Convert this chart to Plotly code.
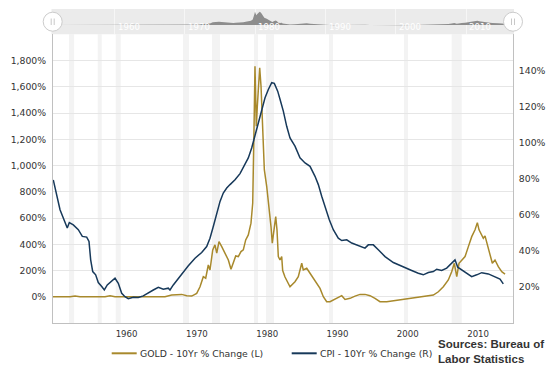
import plotly.graph_objects as go

# ---------------- data ----------------
cpi_years = [1951.28, 1951.77, 1952.24, 1952.62, 1952.95, 1953.27, 1953.56, 1954.13, 1954.84, 1955.41,
             1956.03, 1956.36, 1956.60, 1956.89, 1957.31, 1957.68, 1958.17, 1958.54, 1958.96, 1959.59,
             1960.06, 1960.53, 1961.01, 1961.48, 1961.95, 1962.66, 1963.37, 1964.08, 1964.80, 1965.51,
             1966.22, 1966.93, 1967.64, 1967.88, 1968.35, 1969.06, 1969.77, 1970.49, 1971.44, 1972.39,
             1973.10, 1973.57, 1974.04, 1974.53, 1975.00, 1975.46, 1975.95, 1976.42, 1977.13, 1977.84,
             1978.55, 1979.02, 1979.50, 1979.97, 1980.44, 1980.93, 1981.40, 1981.87, 1982.35, 1982.72,
             1983.20, 1983.53, 1984.00, 1984.48, 1984.95, 1985.66, 1986.37, 1987.09, 1987.80, 1988.51,
             1988.98, 1989.46, 1990.17, 1990.54, 1991.11, 1991.82, 1992.31, 1993.02, 1993.73, 1994.67,
             1995.62, 1996.09, 1996.80, 1997.51, 1998.47, 1999.65, 2000.36, 2001.07, 2001.55, 2002.26,
             2003.20, 2003.91, 2004.63, 2005.34, 2005.82, 2006.53, 2007.24, 2007.95, 2008.42, 2008.81,
             2009.38, 2010.09, 2010.80, 2011.51, 2012.22, 2013.16, 2014.11, 2014.82, 2015.29]
cpi_change = [79.3, 70.2, 62.8, 59.0, 55.4, 52.6, 55.7, 54.4, 51.7, 48.0,
              47.6, 45.2, 35.0, 28.5, 26.7, 22.4, 20.2, 18.3, 21.1, 23.0,
              24.8, 22.0, 16.5, 14.6, 13.5, 14.3, 14.1, 15.0, 16.8, 18.3,
              19.8, 18.7, 19.3, 18.3, 21.1, 24.8, 28.5, 31.7, 35.9, 39.1,
              42.4, 47.0, 53.5, 60.9, 67.4, 72.0, 74.8, 76.7, 79.4, 82.8,
              87.8, 91.5, 97.0, 103.5, 110.9, 117.4, 124.8, 129.4, 133.2, 132.8,
              128.5, 124.0, 117.4, 109.0, 102.6, 98.0, 91.5, 88.7, 86.8, 81.3,
              76.7, 70.2, 60.9, 57.2, 51.7, 47.0, 45.7, 46.1, 44.3, 42.8,
              41.5, 43.3, 43.3, 40.6, 36.8, 33.5, 32.2, 30.9, 30.4, 29.1,
              27.6, 26.7, 28.0, 28.5, 29.8, 29.1, 30.4, 33.2, 35.0, 30.9,
              29.4, 27.9, 25.7, 26.7, 27.9, 27.2, 25.7, 24.3, 21.7]

gold_years = [1951.24, 1953.66, 1954.37, 1955.08, 1958.64, 1959.35, 1960.06, 1967.17, 1968.12, 1969.55,
              1970.26, 1970.97, 1971.68, 1972.15, 1972.62, 1972.96, 1973.33, 1973.57, 1973.96, 1974.28,
              1974.53, 1974.85, 1975.24, 1975.71, 1976.18, 1976.56, 1976.89, 1977.23, 1977.60, 1977.98,
              1978.31, 1978.65, 1979.02, 1979.40, 1979.65, 1979.79, 1979.87, 1979.97, 1980.16, 1980.30,
              1980.64, 1980.83, 1981.01, 1981.30, 1981.64, 1981.97, 1982.25, 1982.43, 1982.72, 1982.92,
              1983.10, 1983.29, 1983.53, 1983.77, 1983.91, 1984.24, 1984.95, 1985.66, 1986.13, 1986.62,
              1986.84, 1987.33, 1987.80, 1988.27, 1988.75, 1989.22, 1989.69, 1990.17, 1990.64, 1991.11,
              1991.82, 1992.31, 1992.78, 1993.49, 1994.20, 1994.91, 1995.62, 1996.33, 1997.04, 1997.75,
              1998.71, 1999.65, 2000.60, 2001.31, 2002.73, 2004.16, 2005.34, 2006.05, 2006.76, 2007.47,
              2007.95, 2008.32, 2008.67, 2008.99, 2009.38, 2009.85, 2010.32, 2010.80, 2011.27, 2011.60,
              2011.84, 2012.12, 2012.45, 2012.69, 2013.07, 2013.40, 2013.73, 2014.11, 2014.58, 2015.07,
              2015.54]
gold_change = [0, 0, 6, 0, 0, 8, 0, 0, 13, 18,
               8, 5, 26, 76, 153, 141, 242, 204, 357, 395,
               332, 420, 382, 332, 280, 209, 255, 311, 306, 344,
               357, 433, 471, 561, 714, 1019, 1401, 1757, 1300, 1450,
               1745, 1604, 1325, 968, 840, 688, 535, 408, 535, 611,
               510, 306, 280, 306, 200, 150, 76, 115, 153, 255,
               204, 217, 179, 141, 102, 64, 0, -38, -38, -25,
               -5, 8, -20, -12, 5, 18, 18, 8, -12, -38,
               -38, -31, -25, -20, -8, 5, 13, 38, 76, 128,
               191, 255, 153, 255, 280, 306, 382, 458, 510, 565,
               510, 484, 446, 464, 382, 306, 255, 280, 229, 191,
               173]

# shaded periods (recessions)
band_start = [1953.52, 1957.60, 1960.16, 1969.73, 1973.86, 1979.83, 1981.54, 1990.50, 2001.17, 2007.95]
band_end = [1954.24, 1958.17, 1960.87, 1970.58, 1975.00, 1980.40, 1982.68, 1991.07, 2001.74, 2009.38]

decades = [1960, 1970, 1980, 1990, 2000, 2010]
left_ticks = [0, 200, 400, 600, 800, 1000, 1200, 1400, 1600, 1800]
left_labels = ["0%", "200%", "400%", "600%", "800%", "1,000%", "1,200%", "1,400%", "1,600%", "1,800%"]
right_ticks = [20, 40, 60, 80, 100, 120, 140]
right_labels = ["20%", "40%", "60%", "80%", "100%", "120%", "140%"]

gold_name = "GOLD - 10Yr % Change (L)"
cpi_name = "CPI - 10Yr % Change (R)"
source_text = "Sources: Bureau of<br>Labor Statistics"

# ---------------- styles ----------------
GOLD = "#a8892c"
CPI = "#17395a"
# the page body keeps its default 8px margin, so the figure is sized to the visible window
W, H = 549, 358
ML, MR, MT, MB = 45, 44, 1, 43
PW, PH = W - ML - MR, H - MT - MB
XR = [1951.24, 2016.67]
MAIN_TOP = (323 - 34.3) / PH


def px(x):  # window pixel -> paper
    return (x - 53) / PW


def py(y):  # window pixel -> paper
    return (323 - y) / PH


FONT = "DejaVu Sans, Verdana, sans-serif"

fig = go.Figure()

# navigator (top strip)
fig.add_trace(go.Scatter(x=gold_years, y=gold_change, xaxis="x2", yaxis="y3", mode="lines",
                         line=dict(color="rgba(0,0,0,0)", width=0), fill="tozeroy",
                         fillcolor="#8d8d8d", hoverinfo="skip", showlegend=False))

fig.add_trace(go.Scatter(x=cpi_years, y=cpi_change, xaxis="x", yaxis="y2", mode="lines",
                         line=dict(color=CPI, width=1.5), name=cpi_name, showlegend=False))
fig.add_trace(go.Scatter(x=gold_years, y=gold_change, xaxis="x", yaxis="y", mode="lines",
                         line=dict(color=GOLD, width=1.5), name=gold_name, showlegend=False))

shapes = []
for s, e in zip(band_start, band_end):
    shapes.append(dict(type="rect", xref="x", yref="y domain", x0=s, x1=e, y0=0, y1=1,
                       fillcolor="#f3f3f3", line=dict(width=0), layer="below"))
# navigator background
shapes.append(dict(type="rect", xref="paper", yref="paper", x0=px(51.5), x1=px(514), y0=py(34.3), y1=1,
                   fillcolor="#ebebeb", line=dict(width=0), layer="below"))
# navigator handles
for cx in [52.7, 513.0]:
    shapes.append(dict(type="circle", xref="paper", yref="paper",
                       x0=px(cx - 9.5), x1=px(cx + 9.5), y0=py(31.2), y1=py(12.2),
                       fillcolor="white", line=dict(color="#cccccc", width=1), layer="above"))
    for dx in [-1.5, 1.5]:
        shapes.append(dict(type="line", xref="paper", yref="paper", x0=px(cx + dx), x1=px(cx + dx),
                           y0=py(25), y1=py(18.5), line=dict(color="#c8c8c8", width=1), layer="above"))
# legend symbols
shapes.append(dict(type="line", xref="paper", yref="paper", x0=px(111.7), x1=px(136.7),
                   y0=py(353.3), y1=py(353.3), line=dict(color=GOLD, width=2)))
shapes.append(dict(type="line", xref="paper", yref="paper", x0=px(291.7), x1=px(316.7),
                   y0=py(353.3), y1=py(353.3), line=dict(color=CPI, width=2)))

annotations = [
    dict(text=gold_name, xref="paper", yref="paper", x=px(137.5), y=py(353.3), xanchor="left",
         yanchor="middle", showarrow=False, font=dict(family=FONT, size=9.3, color="#333333")),
    dict(text=cpi_name, xref="paper", yref="paper", x=px(317.5), y=py(353.3), xanchor="left",
         yanchor="middle", showarrow=False, font=dict(family=FONT, size=9.3, color="#333333")),
    dict(text=source_text, xref="paper", yref="paper", x=px(435.5), y=py(351.2), xanchor="left",
         yanchor="middle", align="left", showarrow=False,
         font=dict(family="Liberation Sans, Arial, sans-serif", size=11.5, color="#333333", weight="bold")),
]
for d in decades:
    annotations.append(dict(text=str(d), xref="x2", yref="paper", x=d, y=py(26.7), xanchor="left",
                            yanchor="middle", xshift=1, showarrow=False,
                            font=dict(family=FONT, size=8.6, color="#ffffff")))

fig.update_layout(
    template="none",
    width=W, height=H,
    margin=dict(l=ML, r=MR, t=MT, b=MB, autoexpand=False),
    paper_bgcolor="white", plot_bgcolor="rgba(0,0,0,0)",
    font=dict(family=FONT, size=9.3, color="#333333"),
    separators=".,",
    hovermode="closest",
    shapes=shapes, annotations=annotations,
    xaxis=dict(domain=[0, 1], range=XR, anchor="y", tickvals=decades, ticks="", showgrid=False,
               zeroline=False, showline=True, linecolor="#c0c0c0", linewidth=1, automargin=False,
               ticklabelshift=12, ticklabelstandoff=3, tickfont=dict(size=8.6, color="#333333")),
    yaxis=dict(domain=[0, MAIN_TOP], range=[-200, 2000], tickvals=left_ticks, ticktext=left_labels,
               showgrid=True, gridcolor="#e6e6e6", gridwidth=1, zeroline=False, showline=True,
               linecolor="#c0c0c0", linewidth=1, ticks="", ticklabelstandoff=4, automargin=False,
               tickfont=dict(size=9.3, color="#333333")),
    yaxis2=dict(overlaying="y", side="right", range=[0, 160], tickvals=right_ticks, ticktext=right_labels,
                showgrid=False, zeroline=False, showline=True, linecolor="#c0c0c0", linewidth=1,
                ticks="", ticklabelstandoff=3, automargin=False, tickfont=dict(size=9.3, color="#333333")),
    xaxis2=dict(domain=[0, 1], range=XR, anchor="y3", tickvals=decades, showticklabels=False,
                showgrid=True, gridcolor="#f6f6f6", gridwidth=1, zeroline=False, showline=False, ticks="",
                automargin=False),
    yaxis3=dict(domain=[MAIN_TOP, 1], range=[-1228, 2114], visible=False, showgrid=False, automargin=False),
)

fig.write_html("out.html")
